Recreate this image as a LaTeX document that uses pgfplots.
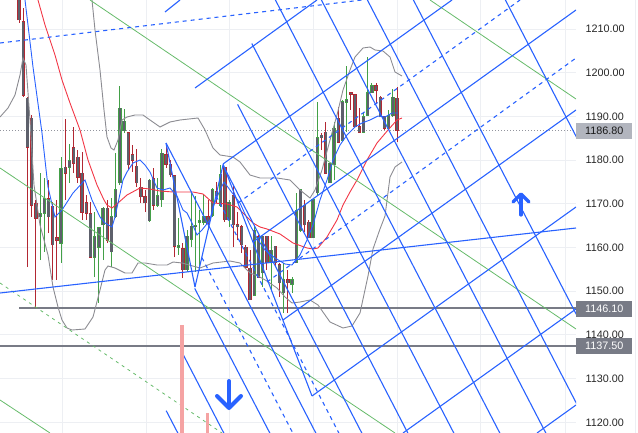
\documentclass[border=0pt]{standalone}
\usepackage{pgfplots}
\usepackage{pgfplotstable}
\pgfplotsset{compat=1.18}
\usepackage{fontspec}
\setmainfont{Liberation Sans}
\definecolor{tvblue}{HTML}{2962FF}
\definecolor{tvgreen}{HTML}{66BB6A}
\definecolor{bbgray}{HTML}{8C8C92}
\definecolor{mared}{HTML}{F23645}
\definecolor{wickred}{HTML}{B22833}
\definecolor{wickgreen}{HTML}{43A047}
\definecolor{bodygray}{HTML}{5D606B}
\definecolor{lvl}{HTML}{787B86}
\definecolor{gridc}{HTML}{EDEFF3}
\definecolor{pinkbar}{HTML}{F5A3A3}
\definecolor{lastbox}{HTML}{B2B5BE}

% candles: x (bar position), open, high, low, close
\pgfplotstableread{
x o h l c
19.0 1218.0 1219.0 1211.4 1212.1
23.2 1211.6 1214.8 1194.4 1194.9
27.4 1194.2 1194.4 1155.5 1183.0
31.6 1189.6 1190.3 1167.0 1169.7
35.8 1170.0 1170.9 1146.2 1166.7
48.4 1171.1 1175.4 1163.3 1167.0
52.6 1169.3 1170.4 1152.6 1160.6
56.8 1162.2 1170.9 1152.6 1161.7
65.2 1178.4 1189.4 1170.9 1177.0
73.6 1182.8 1187.6 1177.0 1179.3
77.8 1180.7 1182.3 1174.8 1176.1
82.0 1177.0 1181.9 1166.3 1168.1
86.2 1170.2 1172.0 1166.3 1167.9
90.4 1167.7 1170.4 1157.8 1157.8
107.2 1169.0 1170.9 1161.0 1161.7
128.2 1186.2 1186.4 1177.7 1178.9
132.4 1181.2 1183.5 1177.3 1180.0
136.6 1178.6 1182.5 1173.8 1174.8
140.8 1173.8 1175.9 1170.2 1171.6
145.0 1171.6 1173.2 1168.1 1170.2
153.4 1175.7 1178.2 1168.6 1169.7
166.0 1181.2 1183.9 1178.2 1179.1
170.2 1179.1 1180.0 1176.1 1176.6
174.4 1176.4 1176.6 1157.8 1160.3
182.8 1159.7 1161.0 1153.0 1154.9
208.0 1167.0 1170.9 1164.0 1165.6
216.4 1172.7 1175.0 1170.2 1172.0
224.8 1178.4 1178.4 1165.8 1166.3
233.2 1171.8 1174.3 1160.1 1165.2
237.4 1165.2 1168.1 1161.7 1164.7
241.6 1164.7 1165.2 1158.7 1160.6
245.8 1160.1 1160.6 1155.5 1155.5
250.0 1155.3 1159.4 1148.0 1148.0
258.4 1162.4 1162.9 1153.0 1153.2
266.8 1162.6 1162.6 1154.9 1156.5
275.2 1160.3 1160.3 1155.5 1156.5
279.4 1156.0 1156.5 1148.7 1151.9
287.8 1152.6 1154.9 1145.0 1151.9
304.6 1169.7 1170.9 1163.5 1165.2
308.8 1165.8 1166.3 1162.2 1162.2
321.4 1185.7 1186.2 1182.3 1185.1
325.6 1186.4 1188.7 1177.0 1177.0
338.2 1189.6 1192.2 1184.1 1184.1
350.8 1195.4 1195.4 1191.5 1195.1
355.0 1194.9 1194.9 1187.6 1187.6
359.2 1187.6 1191.9 1186.4 1186.4
376.0 1197.0 1197.6 1193.1 1196.0
380.2 1194.4 1194.7 1189.9 1189.9
384.4 1189.9 1189.9 1186.9 1187.3
397.0 1194.2 1196.7 1184.1 1186.8
}\redc

\pgfplotstableread{
x o h l c
40.0 1167.0 1177.0 1157.1 1167.7
44.2 1167.9 1175.9 1159.0 1171.1
61.0 1161.0 1180.7 1156.5 1178.0
69.4 1178.4 1183.7 1174.8 1179.8
94.6 1157.8 1168.1 1153.2 1162.4
98.8 1160.1 1164.7 1147.3 1164.5
103.0 1165.2 1169.3 1157.1 1169.0
111.4 1159.0 1171.3 1155.5 1167.0
115.6 1167.0 1181.6 1166.7 1173.2
119.8 1174.8 1197.0 1174.3 1191.9
124.0 1186.7 1191.7 1186.2 1188.9
149.2 1166.1 1175.7 1165.8 1175.4
157.6 1169.7 1175.9 1169.3 1171.8
161.8 1170.9 1182.5 1169.3 1181.6
178.6 1160.1 1166.7 1158.3 1160.3
187.0 1154.9 1164.0 1154.4 1162.6
191.2 1161.9 1172.5 1160.1 1164.9
195.4 1164.7 1171.8 1154.4 1165.0
199.6 1165.8 1168.6 1154.9 1166.1
203.8 1165.8 1172.0 1165.2 1167.0
212.2 1167.4 1173.6 1167.0 1173.2
220.6 1169.7 1178.9 1169.3 1176.8
229.0 1166.3 1170.9 1164.7 1170.4
254.2 1149.1 1164.9 1149.1 1164.0
262.6 1154.2 1162.6 1151.0 1162.6
271.0 1156.5 1162.6 1150.3 1159.4
283.6 1149.6 1156.5 1145.0 1152.6
292.0 1151.6 1153.2 1149.6 1152.6
296.2 1156.5 1172.5 1156.5 1168.4
300.4 1164.0 1173.2 1163.5 1173.2
313.0 1162.2 1171.3 1162.2 1170.9
317.2 1172.5 1193.3 1172.0 1185.1
329.8 1174.8 1179.3 1174.8 1179.3
334.0 1178.9 1188.7 1175.4 1187.3
342.4 1184.6 1193.8 1184.1 1193.3
346.6 1193.3 1201.5 1186.4 1193.8
363.4 1186.4 1191.0 1186.2 1189.9
367.6 1190.3 1203.6 1190.1 1195.4
371.8 1195.4 1197.6 1195.4 1197.0
388.6 1187.3 1191.5 1187.3 1190.1
392.8 1190.1 1196.3 1189.9 1194.4
}\greenc

\pgfplotsset{
  wick/.style={draw=none, mark=none, error bars/.cd, y dir=plus, y explicit,
    error mark=none, error bar style={draw=#1, line width=1bp}},
  bodyout/.style={draw=none, mark=none, error bars/.cd, y dir=plus, y explicit,
    error mark=none, error bar style={draw=#1, line width=3.4bp}},
  bodyin/.style={draw=none, mark=none, error bars/.cd, y dir=plus, y explicit,
    error mark=none, error bar style={draw=bodygray, line width=2.2bp}},
  drw/.style={tvblue, line width=1.1bp},
  drwd/.style={tvblue, line width=1.1bp, dash pattern=on 4bp off 4bp},
  grn/.style={tvgreen, line width=0.8bp},
}

\begin{document}
\begin{tikzpicture}
\useasboundingbox (0,0) rectangle (638bp,433bp);

% price pane
\begin{axis}[
  at={(0,0)}, anchor=south west, scale only axis,
  width=576bp, height=433bp,
  xmin=0, xmax=576, ymin=1117.55, ymax=1216.64,
  axis line style={draw=none}, tick style={draw=none},
  xtick={62,146,229,313,397,480,565}, xticklabels={},
  ytick={1120,1130,1140,1150,1160,1170,1180,1190,1200,1210},
  yticklabels={1120.00,1130.00,1140.00,1150.00,1160.00,1170.00,1180.00,1190.00,1200.00,1210.00},
  yticklabel pos=right,
  yticklabel style={anchor=west, inner xsep=0pt, xshift=9.5bp, font=\fontsize{10.8bp}{12bp}\selectfont, text=black!85},
  grid=major, grid style={gridc, line width=0.8bp},
  clip mode=individual,
]
\addplot[lvl!80, line width=0.8bp, dash pattern=on 1bp off 2bp] coordinates {(0,1186.8) (576,1186.8)};
\addplot[lvl, line width=2.3bp] coordinates {(19,1146.1) (576,1146.1)};
\addplot[lvl, line width=2.3bp] coordinates {(0,1137.5) (576,1137.5)};

\addplot[wick=wickred] table[x=x, y=l, y error expr=\thisrow{h}-\thisrow{l}] {\redc};
\addplot[wick=wickgreen] table[x=x, y=l, y error expr=\thisrow{h}-\thisrow{l}] {\greenc};
\addplot[bodyout=wickred] table[x=x, y expr=\thisrow{c}-0.12, y error expr={max(\thisrow{o}-\thisrow{c},0.25)+0.24}] {\redc};
\addplot[bodyin] table[x=x, y=c, y error expr={max(\thisrow{o}-\thisrow{c},0.25)}] {\redc};
\addplot[bodyout=wickgreen] table[x=x, y expr=\thisrow{o}-0.12, y error expr={max(\thisrow{c}-\thisrow{o},0.25)+0.24}] {\greenc};
\addplot[bodyin] table[x=x, y=o, y error expr={max(\thisrow{c}-\thisrow{o},0.25)}] {\greenc};
\end{axis}

% drawings and indicators, pane pixel coordinates
\begin{axis}[
  at={(0,0)}, anchor=south west, scale only axis,
  width=576bp, height=433bp,
  xmin=0, xmax=576, ymin=0, ymax=433, y dir=reverse,
  hide axis, clip mode=individual,
]
% bollinger bands
\addplot[bbgray, line width=0.9bp] coordinates {(92,0) (95,30) (100,70) (104,110) (107,137) (111,148) (114,150) (118,140) (122,120) (127,117) (135,115) (143,115) (150,120) (160,127) (170,122) (180,120) (198,118) (205,130) (213,148) (220,155) (233,157) (240,162) (250,175) (260,178) (277,178) (290,180) (300,190) (310,198) (315,190) (322,170) (330,140) (337,115) (343,90) (350,70) (355,57) (363,48) (370,47) (375,50) (383,51) (390,57) (395,72) (402,76)};
\addplot[bbgray, line width=0.9bp] coordinates {(0,117) (8,108) (15,95) (20,75) (23,58) (26,65) (30,120) (34,185) (40,225) (48,255) (53,287) (58,307) (62,320) (67,328) (72,330) (85,329) (93,317) (100,290) (105,270) (108,266) (115,268) (125,273) (132,273) (138,263) (145,263) (157,265) (167,265) (173,262) (182,263) (200,268) (213,263) (230,261) (240,263) (250,273) (258,276) (267,281) (277,288) (285,297) (292,303) (300,302) (310,300) (318,305) (330,322) (343,328) (352,326) (360,313) (368,276) (373,249) (380,229) (385,216) (390,177) (395,167) (402,162)};
% moving averages
\addplot[mared, line width=0.9bp] coordinates {(38,0) (45,25) (55,55) (62,80) (70,103) (80,130) (88,160) (97,185) (104,200) (107,205) (112,208) (118,203) (127,195) (140,188) (150,189) (160,191) (173,192) (193,192) (203,194) (213,203) (227,204) (237,207) (245,215) (253,223) (260,227) (267,229) (280,234) (293,243) (307,248) (313,249) (318,248) (327,237) (337,220) (343,205) (350,192) (357,180) (367,160) (377,143) (388,130) (397,120) (402,118)};
\addplot[tvblue, line width=0.9bp] coordinates {(25,0) (33,67) (42,133) (48,187) (55,217) (62,210) (73,193) (85,180) (92,200) (100,217) (105,223) (112,227) (115,217) (123,180) (127,172) (133,163) (140,160) (145,165) (150,172) (157,188) (163,190) (170,188) (177,196) (183,210) (187,213) (192,223) (197,235) (202,230) (210,220) (213,207) (220,190) (224,182) (230,190) (240,203) (250,225) (258,240) (265,250) (275,258) (285,264) (292,265) (300,255) (307,240) (313,225) (320,200) (327,180) (333,160) (340,145) (347,135) (355,127) (362,123) (370,120) (378,116) (385,117) (392,113) (398,113)};

% green trend lines
\addplot[grn] coordinates {(90,0) (576,329)};
\addplot[grn] coordinates {(430,0) (576,99)};
\addplot[grn] coordinates {(0,168) (395,433)};
\addplot[grn] coordinates {(0,400) (50,433)};
\addplot[grn, dash pattern=on 3bp off 4bp] coordinates {(0,283) (222,433)};

% channel
\addplot[drw] coordinates {(0,293) (576,228)};
\addplot[drwd] coordinates {(0,43) (362,0)};

% pitchfork: handle points and parallel levels
\addplot[drw] coordinates {(166,143) (195,287)};
\addplot[drw] coordinates {(195,287) (223,165)};
\addplot[drw] coordinates {(166.2,410.7) (177.8,433)};
\addplot[drw] coordinates {(180.5,349.4) (223.8,433)};
\addplot[drw] coordinates {(194.7,288.4) (269.8,433)};
\addplot[drwd] coordinates {(201.9,257.6) (292.8,433)};
\addplot[drw] coordinates {(166,143) (315.8,433)};
\addplot[drwd] coordinates {(216.2,196) (338.8,433)};
\addplot[drw] coordinates {(223.3,165.7) (361.8,433)};
\addplot[drw] coordinates {(237.6,104.4) (407.8,433)};
\addplot[drw] coordinates {(251.8,43.5) (453.8,433)};
\addplot[drw] coordinates {(275.4,0) (499.8,433)};
\addplot[drw] coordinates {(321.4,0) (545.8,433)};
\addplot[drw] coordinates {(367.4,0) (591.8,433)};
\addplot[drw] coordinates {(413.4,0) (637.8,433)};
\addplot[drw] coordinates {(505.4,0) (729.8,433)};

% rising grid lines
\addplot[drw] coordinates {(165,12) (180,0)};
\addplot[drw] coordinates {(195,88) (317,0)};
\addplot[drw] coordinates {(223,164) (452,0)};
\addplot[drw] coordinates {(253,242) (576,10)};
\addplot[drw] coordinates {(283,320) (576,110)};
\addplot[drw] coordinates {(312,396) (576,207)};
\addplot[drw] coordinates {(403,433) (576,309)};
\addplot[drw] coordinates {(537,433) (576,405)};
\addplot[drwd] coordinates {(238,203) (520,0)};
\addplot[drwd] coordinates {(267,282) (576,58)};
\addplot[drw] coordinates {(223,164) (312,396)};

% pink bars
\addplot[pinkbar, line width=3.5bp] coordinates {(182,325) (182,440)};
\addplot[pinkbar, line width=3.5bp] coordinates {(207.5,413) (207.5,440)};

% arrows
\addplot[tvblue, line width=3.2bp, line cap=round] coordinates {(521,215) (521,195)};
\addplot[tvblue, line width=3.2bp, line cap=round, line join=round] coordinates {(513,202) (521,194) (529,202)};
\addplot[tvblue, line width=4bp, line cap=round] coordinates {(229,381) (229,407)};
\addplot[tvblue, line width=4bp, line cap=round, line join=round] coordinates {(217,396) (229,408) (241,396)};

% price scale labels
\draw[gridc, line width=0.8bp] (axis cs:635,0) -- (axis cs:635,433);
\node[fill=lastbox, minimum width=56bp, minimum height=16bp, inner sep=0pt, anchor=west,
  font=\fontsize{10.8bp}{12bp}\selectfont, text=black!90] at (axis cs:576,130.5) {1186.80};
\node[fill=lvl, minimum width=56bp, minimum height=16bp, inner sep=0pt, anchor=west,
  font=\fontsize{10.8bp}{12bp}\selectfont, text=white] at (axis cs:576,309) {1146.10};
\node[fill=lvl, minimum width=56bp, minimum height=16bp, inner sep=0pt, anchor=west,
  font=\fontsize{10.8bp}{12bp}\selectfont, text=white] at (axis cs:576,346) {1137.50};
\end{axis}
\end{tikzpicture}
\end{document}
